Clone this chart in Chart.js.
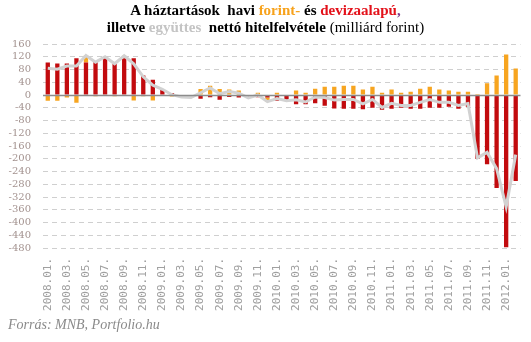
<!DOCTYPE html>
<html>
<head>
<meta charset="utf-8">
<script src="https://cdn.jsdelivr.net/npm/chart.js"></script>
<style>
  html, body { margin: 0; padding: 0; background: #fff; }
  #wrap { position: relative; width: 531px; height: 342px; overflow: hidden; }
  #cim {
    position: absolute; left: 0; top: 2px; width: 531px;
    text-align: center; font-family: "Liberation Serif", serif;
    font-weight: bold; font-size: 15px; line-height: 17px; color: #000;
  }
  #cim .forint { color: #f7a21b; }
  #cim .deviza { color: #e3111a; }
  #cim .vesszo { color: #7b3f8c; }
  #cim .egyutt { color: #c4c4c4; }
  #cim .egyseg { font-weight: normal; }
  #forras {
    position: absolute; left: 8px; top: 317px;
    font-family: "Liberation Serif", serif; font-style: italic;
    font-size: 14px; color: #8a8a8a;
  }
  canvas { position: absolute; left: 0; top: 0; }
</style>
</head>
<body>
<div id="wrap">
  <canvas id="hitel" width="531" height="342"></canvas>
  <div id="cim">
    A háztartások&nbsp; havi <span class="forint">forint-</span> és <span class="deviza">devizaalapú</span><span class="vesszo">,</span><br>
    illetve <span class="egyutt">együttes</span>&nbsp; nettó hitelfelvétele <span class="egyseg">(milliárd forint)</span>
  </div>
  <div id="forras">Forrás: MNB, Portfolio.hu</div>
</div>
<script>
// havi adatok, milliárd forint
const honapok = [
  '2008.01.', '2008.02.', '2008.03.', '2008.04.', '2008.05.', '2008.06.',
  '2008.07.', '2008.08.', '2008.09.', '2008.10.', '2008.11.', '2008.12.',
  '2009.01.', '2009.02.', '2009.03.', '2009.04.', '2009.05.', '2009.06.',
  '2009.07.', '2009.08.', '2009.09.', '2009.10.', '2009.11.', '2009.12.',
  '2010.01.', '2010.02.', '2010.03.', '2010.04.', '2010.05.', '2010.06.',
  '2010.07.', '2010.08.', '2010.09.', '2010.10.', '2010.11.', '2010.12.',
  '2011.01.', '2011.02.', '2011.03.', '2011.04.', '2011.05.', '2011.06.',
  '2011.07.', '2011.08.', '2011.09.', '2011.10.', '2011.11.', '2011.12.',
  '2012.01.', '2012.02.'
];

const deviza = [
  102, 99, 99, 115, 102, 107, 116, 102, 115, 115,
  61, 48, 18, 6, -3, -8, -12, -7, -15, -6,
  -8, -9, -7, -8, -18, -18, -29, -29, -26, -34,
  -42, -43, -43, -45, -40, -46, -43, -40, -43, -43,
  -40, -40, -37, -43, -37, -200, -217, -292, -478, -270
];

const forint = [
  -18, -18, -8, -24, 22, -4, 4, -4, 8, -17,
  -4, -17, 0, -5, -3, 0, 19, 29, 19, 17,
  14, 0, 7, -13, 7, 0, 14, 7, 20, 26,
  26, 29, 29, 17, 26, 7, 17, 7, 10, 20,
  26, 17, 14, 10, 10, 3, 37, 61, 127, 83
];

const egyuttes = [
  84, 81, 91, 91, 124, 103, 120, 98, 123, 98,
  57, 31, 18, 1, -6, -8, 7, 22, 4, 11,
  6, -9, 0, -21, -11, -18, -15, -22, -6, -8,
  -16, -14, -14, -28, -14, -39, -26, -33, -33, -23,
  -14, -23, -23, -33, -27, -197, -180, -231, -351, -187
];

const yTicks = [160, 120, 80, 40, 0, -40, -80, -120, -160, -200, -240, -280, -320, -360, -400, -440, -480];

// solid zero line over the dashed grid
const nullaVonal = {
  id: 'nullaVonal',
  afterDatasetsDraw(chart) {
    const { ctx, chartArea, scales } = chart;
    const y = Math.round(scales.y.getPixelForValue(0)) + 0.5;
    ctx.save();
    ctx.strokeStyle = '#8c8c8c';
    ctx.lineWidth = 1.6;
    ctx.beginPath();
    ctx.moveTo(chartArea.left, y);
    ctx.lineTo(chartArea.right, y);
    ctx.stroke();
    ctx.restore();
  }
};

new Chart(document.getElementById('hitel'), {
  type: 'bar',
  data: {
    labels: honapok,
    datasets: [
      {
        label: 'devizaalapú',
        data: deviza,
        backgroundColor: '#c20b0e',
        stack: 'hitel',
        order: 1,
        barPercentage: 0.45,
        categoryPercentage: 1
      },
      {
        label: 'forint',
        data: forint,
        backgroundColor: '#f7a520',
        stack: 'hitel',
        order: 1,
        barPercentage: 0.45,
        categoryPercentage: 1
      },
      {
        type: 'line',
        label: 'együttes',
        data: egyuttes,
        borderColor: '#d2d2d2',
        borderWidth: 3,
        pointRadius: 0,
        tension: 0,
        fill: false,
        stack: 'osszes',
        order: 0
      }
    ]
  },
  options: {
    responsive: false,
    animation: false,
    layout: { padding: { top: 44, right: 9, bottom: 26, left: 0 } },
    plugins: {
      legend: { display: false },
      tooltip: { enabled: false }
    },
    scales: {
      x: {
        stacked: true,
        afterFit: (axis) => { axis.height = 68; },
        grid: { display: false },
        border: { display: false },
        ticks: {
          autoSkip: false,
          maxRotation: 90,
          minRotation: 90,
          padding: 2,
          color: '#a0a0a0',
          font: { family: 'DejaVu Sans Mono', size: 11 },
          callback: (v, i) => (i % 2 === 0 ? honapok[i] : '')
        }
      },
      y: {
        stacked: true,
        min: -480,
        max: 160,
        afterBuildTicks: (axis) => { axis.ticks = yTicks.map(v => ({ value: v })); },
        afterFit: (axis) => { axis.width = 43; },
        grid: {
          color: (c) => (c.tick && c.tick.value === 0 ? 'rgba(0,0,0,0)' : '#cfcfcf'),
          lineWidth: 1,
          drawTicks: false
        },
        border: { display: false, dash: [5, 4] },
        ticks: {
          autoSkip: false,
          padding: 12,
          color: '#a3928f',
          font: { family: 'DejaVu Serif', size: 10 },
          callback: (v) => String(v)
        }
      }
    }
  },
  plugins: [nullaVonal]
});
</script>
</body>
</html>
